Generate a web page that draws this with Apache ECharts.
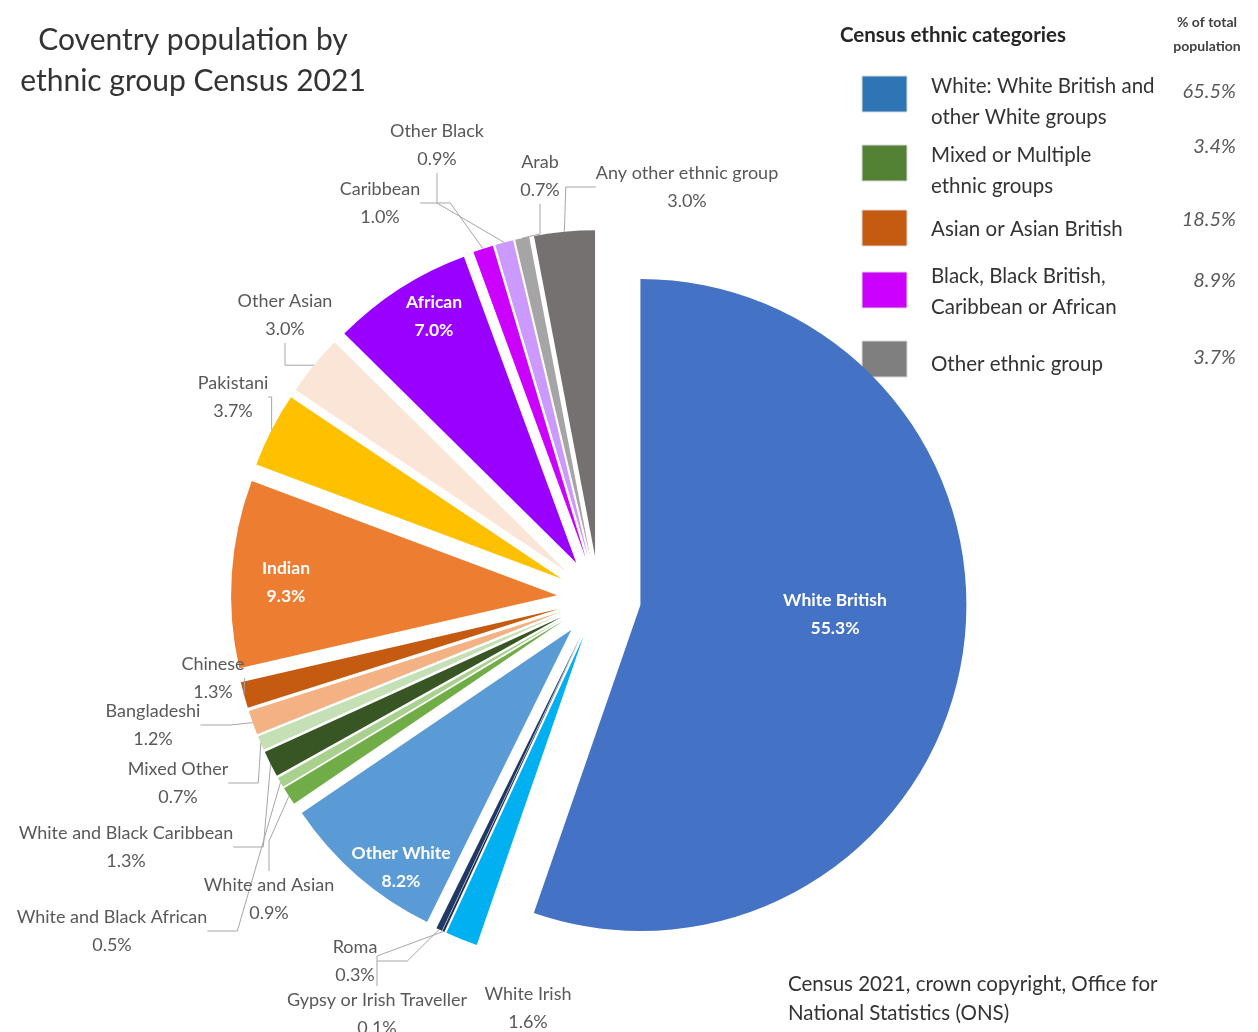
<!DOCTYPE html>
<html>
<head>
<meta charset="utf-8">
<script src="https://cdn.jsdelivr.net/npm/echarts@6/dist/echarts.min.js"></script>
<style>
html,body{margin:0;padding:0;background:#fff;}
#main{width:1258px;height:1032px;}
</style>
</head>
<body>
<div id="main"></div>
<script>
// slices, clockwise from 12 o'clock
var groupNames = ['White British', 'White Irish', 'Gypsy or Irish Traveller', 'Roma', 'Other White',
    'White and Asian', 'White and Black African', 'White and Black Caribbean', 'Mixed Other',
    'Bangladeshi', 'Chinese', 'Indian', 'Pakistani', 'Other Asian',
    'African', 'Caribbean', 'Other Black', 'Arab', 'Any other ethnic group'];
var groupValues = [55.3, 1.6, 0.1, 0.3, 8.2, 0.9, 0.5, 1.3, 0.7, 1.2, 1.3, 9.3, 3.7, 3.0, 7.0, 1.0, 0.9, 0.7, 3.0];

// right hand key
var categoryNames = ['White: White British and\nother White groups', 'Mixed or Multiple\nethnic groups',
    'Asian or Asian British', 'Black, Black British,\nCaribbean or African', 'Other ethnic group'];
var categoryPcts = ['65.5%', '3.4%', '18.5%', '8.9%', '3.7%'];

// styles
var sliceColors = ['#4472C4', '#00B0F0', '#1F2D50', '#203864', '#5B9BD5',
    '#70AD47', '#A9D18E', '#375623', '#C5E0B4',
    '#F4B183', '#C55A11', '#ED7D31', '#FFC000', '#FBE5D6',
    '#9900FF', '#CC00FF', '#CC99FF', '#A5A5A5', '#767171'];
var categoryColors = ['#2E75B6', '#548235', '#C55A11', '#CC00FF', '#7F7F7F'];
var insideLabels = [0, 4, 11, 14];
var noLineLabels = [1];
// label centres (px)
var labelPos = [[835, 614], [528, 1008], [377, 1014], [355, 961], [401, 867],
    [269, 899], [112, 931], [126, 847], [178, 783],
    [153, 725], [213, 678], [286, 582], [233, 397], [285, 315],
    [434, 316], [380, 203], [437, 145], [540, 176], [687, 187]];

var pieCenter = [599, 598];
var pieRadius = 326;
var explode = 42;

var pieData = [];
var labelData = [];
for (var i = 0; i < groupNames.length; i++) {
    var inside = insideLabels.indexOf(i) >= 0;
    pieData.push({
        name: groupNames[i],
        value: groupValues[i],
        selected: true,
        itemStyle: {color: sliceColors[i]}
    });
    labelData.push({
        name: groupNames[i],
        value: groupValues[i],
        label: inside ? {color: '#fff', fontWeight: 'bold', fontSize: 17.5} : {},
        labelLine: {show: !inside && noLineLabels.indexOf(i) < 0}
    });
}

// key graphics
var keySquareY = [94, 163, 228, 290, 359];
var keyTextY = [102, 171, 229, 292, 364];
var keyPctY = [92, 147, 220, 281, 358];
var keyGraphics = [
    {type: 'text', x: 193, y: 40, style: {text: 'Coventry population by', font: '30px Lato', fill: '#333', align: 'center', verticalAlign: 'middle'}},
    {type: 'text', x: 193, y: 81, style: {text: 'ethnic group Census 2021', font: '30px Lato', fill: '#333', align: 'center', verticalAlign: 'middle'}},
    {type: 'text', x: 840, y: 35, style: {text: 'Census ethnic categories', font: 'bold 20.5px Lato', fill: '#262626', verticalAlign: 'middle'}},
    {type: 'text', x: 1207, y: 22, style: {text: '% of total', font: 'bold 14px Lato', fill: '#404040', align: 'center', verticalAlign: 'middle'}},
    {type: 'text', x: 1207, y: 46, style: {text: 'population', font: 'bold 14px Lato', fill: '#404040', align: 'center', verticalAlign: 'middle'}}
];
for (var k = 0; k < categoryNames.length; k++) {
    keyGraphics.push({type: 'rect', shape: {x: 862, y: keySquareY[k] - 18, width: 45, height: 36}, style: {fill: categoryColors[k], stroke: '#d9d9d9'}});
    keyGraphics.push({type: 'text', x: 931, y: keyTextY[k], style: {text: categoryNames[k], font: '20.5px Lato', fill: '#333', verticalAlign: 'middle', lineHeight: 31}});
    keyGraphics.push({type: 'text', x: 1236, y: keyPctY[k], style: {text: categoryPcts[k], font: 'italic 20px Lato', fill: '#595959', align: 'right', verticalAlign: 'middle'}});
}
keyGraphics.push({type: 'text', x: 788, y: 999, style: {text: 'Census 2021, crown copyright, Office for\nNational Statistics (ONS)', font: '20.5px Lato', fill: '#333', lineHeight: 29, verticalAlign: 'middle'}});

var myChart = echarts.init(document.getElementById('main'));
var option = {
    backgroundColor: '#fff',
    animation: false,
    graphic: keyGraphics,
    series: [{
        // exploded slices
        type: 'pie',
        center: pieCenter,
        radius: pieRadius,
        startAngle: 90,
        clockwise: true,
        selectedMode: 'multiple',
        selectedOffset: explode,
        silent: true,
        label: {show: false},
        labelLine: {show: false},
        emphasis: {disabled: true},
        data: pieData
    }, {
        // invisible ring used only to hang the labels and leader lines on
        type: 'pie',
        center: pieCenter,
        radius: pieRadius + explode,
        startAngle: 90,
        clockwise: true,
        silent: true,
        z: 5,
        avoidLabelOverlap: false,
        itemStyle: {color: 'rgba(0,0,0,0)'},
        label: {
            show: true,
            fontFamily: 'Lato',
            fontSize: 18,
            color: '#595959',
            lineHeight: 28,
            align: 'center',
            formatter: function (p) {
                return p.name + '\n' + p.value.toFixed(1) + '%';
            }
        },
        labelLine: {lineStyle: {color: '#A6A6A6', width: 1}},
        labelLayout: function (p) {
            var pos = labelPos[p.dataIndex];
            return {x: pos[0], y: pos[1], align: 'center', verticalAlign: 'middle'};
        },
        emphasis: {disabled: true},
        data: labelData
    }]
};
myChart.setOption(option);
</script>
</body>
</html>
